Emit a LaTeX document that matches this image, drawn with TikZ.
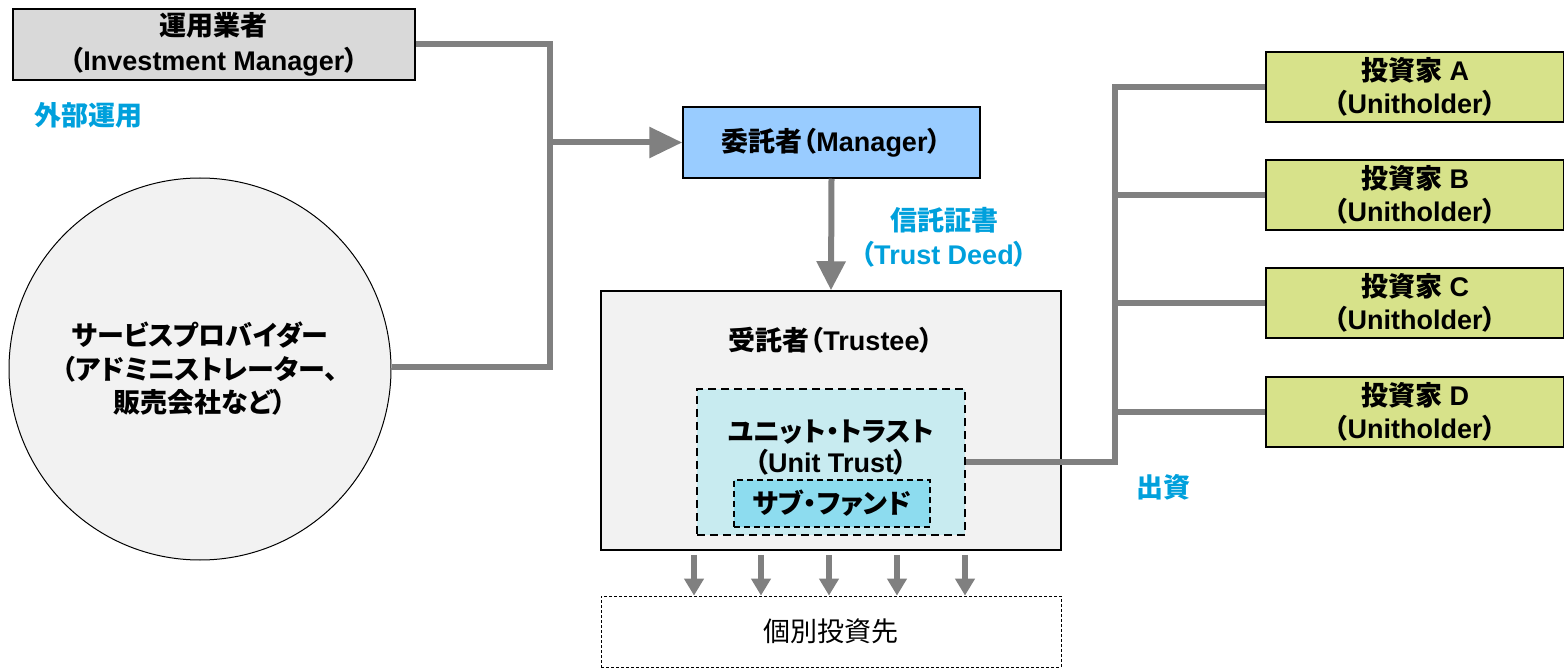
\documentclass[tikz,border=0pt]{standalone}
\usepackage{fontspec}
\setmainfont{Noto Sans CJK JP}[RawFeature=+palt]
\newfontfamily\lat{Liberation Sans}
\usetikzlibrary{arrows.meta}
\definecolor{linegray}{HTML}{808080}
\definecolor{imfill}{HTML}{D9D9D9}
\definecolor{mgrfill}{HTML}{99CCFF}
\definecolor{trufill}{HTML}{F2F2F2}
\definecolor{utfill}{HTML}{C8EBF0}
\definecolor{sffill}{HTML}{8DDCEF}
\definecolor{invfill}{HTML}{D7E28A}
\definecolor{labcyan}{HTML}{00A0DC}
\tikzset{
  txt/.style={font=\bfseries\fontsize{13.5}{17.5}\selectfont, align=center, inner sep=0pt},
  box/.style={draw=black, line width=0.75pt, txt},
  invbox/.style={box, fill=invfill, minimum width=149pt, minimum height=35pt, font=\bfseries\fontsize{13.5}{16.5}\selectfont},
  conn/.style={draw=linegray, line width=3pt, line join=miter},
  lab/.style={font=\bfseries\fontsize{13.5}{17}\selectfont, text=labcyan, align=center, inner sep=0pt},
}
\begin{document}
\begin{tikzpicture}[x=0.5pt,y=-0.5pt]
\useasboundingbox (0,0) rectangle (1564,668);
% nodes
\node[box, fill=imfill, minimum width=201pt, minimum height=35.5pt] (im) at (214,44.5) {運用業者\\（{\lat Investment Manager}）};
\node[lab] (gaibu) at (88,115) {外部運用};
\node[circle, draw=black, line width=0.5pt, fill=trufill, minimum size=191pt, txt, font=\bfseries\fontsize{13.5}{16.75}\selectfont] (sp) at (200,369) {サービスプロバイダー\\（アドミニストレーター、\\販売会社など）};
\node[box, fill=mgrfill, minimum width=148.5pt, minimum height=35.5pt] (mgr) at (831.5,142.5) {委託者（{\lat Manager}）};
\node[lab] (deed) at (944,237) {信託証書\\（{\lat Trust Deed}）};
\node[draw=black, line width=0.75pt, fill=trufill, minimum width=230pt, minimum height=129.5pt] (tru) at (831,420.5) {};
\node[txt] (trulab) at (831,340) {受託者（{\lat Trustee}）};
\node[draw=black, dash pattern=on 4pt off 2.5pt, line width=0.8pt, fill=utfill, minimum width=134pt, minimum height=73pt] (ut) at (831,462) {};
\node[txt, font=\bfseries\fontsize{13.5}{15.5}\selectfont] (utlab) at (831,448) {ユニット・トラスト\\（{\lat Unit Trust}）};
\node[draw=black, dash pattern=on 3pt off 2pt, line width=0.6pt, fill=sffill, minimum width=98pt, minimum height=23.5pt, txt] (sf) at (832,503.5) {サブ・ファンド};
\node[draw=black, dash pattern=on 1.5pt off 1pt, line width=0.4pt, minimum width=230pt, minimum height=35.5pt, font=\fontsize{13.5}{17}\selectfont, inner sep=0pt] (tgt) at (831,631.5) {個別投資先};
\node[invbox] (ia) at (1415,87) {投資家{\lat\ A}\\（{\lat Unitholder}）};
\node[invbox] (ib) at (1415,195) {投資家{\lat\ B}\\（{\lat Unitholder}）};
\node[invbox] (ic) at (1415,303) {投資家{\lat\ C}\\（{\lat Unitholder}）};
\node[invbox] (id) at (1415,412) {投資家{\lat\ D}\\（{\lat Unitholder}）};
\node[lab] (shusshi) at (1163,487) {出資};
% left connectors
\coordinate (jtop) at (550,44.5);
\coordinate (jbot) at (550,367);
\coordinate (jmid) at (550,142.5);
\draw[conn] (im.east) -- (jtop) -- (jbot) -- (sp.east |- jbot);
\draw[conn, -{Triangle[length=16.5pt,width=15pt]}] (jmid) -- (mgr.west);
\draw[conn, -{Triangle[length=14.5pt,width=14pt]}] (mgr.south) -- (tru.north);
% arrows to targets
\foreach \xx in {694,761,829,897,965} {
  \draw[draw=linegray, line width=3pt, -{Triangle[length=8.5pt,width=9.5pt]}] ([yshift=-2pt]tru.south -| \xx,0) -- (tgt.north -| \xx,0);
}
% right connectors
\coordinate (jr) at (1115,462);
\draw[conn] (ut.east) -- (jr) |- (ia.west);
\draw[conn] (jr |- ib.west) -- (ib.west);
\draw[conn] (jr |- ic.west) -- (ic.west);
\draw[conn] (jr |- id.west) -- (id.west);
\end{tikzpicture}
\end{document}
